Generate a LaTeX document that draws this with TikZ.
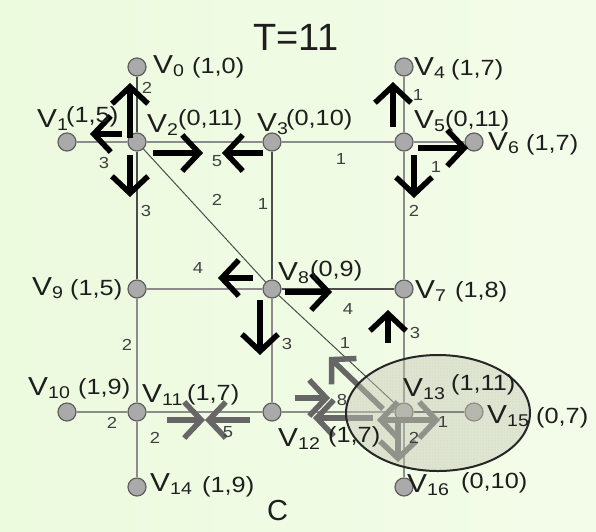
\documentclass[tikz,border=0pt]{standalone}
\usepackage{fontspec}
\setmainfont{Liberation Sans}
\newfontfamily\lf[FakeStretch=1.15]{Liberation Sans}
\newfontfamily\lfn{Liberation Sans}
\usetikzlibrary{arrows.meta,patterns}
\definecolor{bgA}{RGB}{236,250,222}
\definecolor{bgB}{RGB}{243,252,233}
\definecolor{edgeLc}{RGB}{140,140,140}
\definecolor{edgeDc}{RGB}{77,77,77}
\definecolor{vfill}{RGB}{170,170,170}
\definecolor{vdraw}{RGB}{95,95,95}
\definecolor{garr}{RGB}{102,102,102}
\definecolor{ellfill}{RGB}{198,202,182}
\definecolor{wtc}{RGB}{64,64,64}
\definecolor{txt}{RGB}{30,30,30}
\newcommand{\vlab}[7]{%
  \node[vl] (l#1) at (#2,#3) {{\fontsize{26}{26}\selectfont V}\raisebox{-3pt}{\fontsize{17}{17}\selectfont #4}};
  \node[pl] (p#1) at (#5,#6) {#7};}
\tikzset{
  vtx/.style={circle,minimum size=18pt,inner sep=0pt,fill=vfill,draw=vdraw,line width=1.2pt},
  edgeL/.style={draw=edgeLc,line width=2pt},
  edgeD/.style={draw=edgeDc,line width=1.4pt},
  diag/.style={draw=edgeDc,line width=1pt},
  vl/.style={anchor=base west,inner sep=0pt,text=txt,font=\lf},
  pl/.style={anchor=base west,inner sep=0pt,text=txt,font=\lf\fontsize{22}{22}\selectfont},
  wt/.style={inner sep=0pt,text=wtc,font=\lf\fontsize{16}{16}\selectfont},
  barrow/.style={line width=5.5pt,-{Straight Barb[length=17pt,width=36pt]}},
  blk/.style={barrow,draw=black},
  gry/.style={barrow,draw=garr},
  ell/.style={draw=black!85,line width=2pt,fill=ellfill,fill opacity=0.45}
}
\begin{document}
\begin{tikzpicture}[x=1pt,y=-1pt]
\useasboundingbox (0,0) rectangle (596,531);
\shade[left color=bgA,right color=bgB] (0,0) rectangle (596,531);
% vertices
\node[vtx] (v0) at (137,67) {};
\node[vtx] (v1) at (67,142) {};
\node[vtx] (v2) at (137,142) {};
\node[vtx] (v3) at (272,142) {};
\node[vtx] (v4) at (404,67) {};
\node[vtx] (v5) at (404,142) {};
\node[vtx] (v6) at (474,142) {};
\node[vtx] (v9) at (137,289) {};
\node[vtx] (v8) at (272,289) {};
\node[vtx] (v7) at (404,289) {};
\node[vtx] (v10) at (67,412) {};
\node[vtx] (v11) at (137,412) {};
\node[vtx] (v12) at (272,412) {};
\node[vtx] (v13) at (404,412) {};
\node[vtx] (v15) at (474,412) {};
\node[vtx] (v14) at (137,487) {};
\node[vtx] (v16) at (404,487) {};
% edges
\draw[edgeD] (v0) -- (v2);
\draw[edgeL] (v1) -- (v2);
\draw[edgeL] (v2) -- (v3);
\draw[edgeL] (v3) -- (v5);
\draw[edgeL] (v4) -- (v5);
\draw[edgeL] (v5) -- (v6);
\draw[edgeD] (v2) -- (v9);
\draw[edgeD] (v3) -- (v8);
\draw[edgeL] (v5) -- (v7);
\draw[edgeL] (v9) -- (v8);
\draw[edgeD] (v8) -- (v7);
\draw[diag] (v2) -- (v8);
\draw[diag] (v8) -- (v13);
\draw[edgeL] (v9) -- (v11);
\draw[edgeL] (v8) -- (v12);
\draw[edgeL] (v7) -- (v13);
\draw[edgeL] (v10) -- (v11);
\draw[edgeL] (v11) -- (v12);
\draw[edgeL] (v12) -- (v13);
\draw[edgeD] (v13) -- (v15);
\draw[edgeL] (v11) -- (v14);
\draw[edgeL] (v13) -- (v16);
% black arrows
\coordinate (a1s) at (130,138); \coordinate (a1e) at (130,83);
\coordinate (a2s) at (122,134); \coordinate (a2e) at (90,134);
\coordinate (a3s) at (153,153); \coordinate (a3e) at (203,153);
\coordinate (a4s) at (130,155); \coordinate (a4e) at (130,197);
\coordinate (a5s) at (263,153); \coordinate (a5e) at (222,153);
\coordinate (a6s) at (393,127); \coordinate (a6e) at (393,82);
\coordinate (a7s) at (418,148); \coordinate (a7e) at (468,148);
\coordinate (a8s) at (414,155); \coordinate (a8e) at (414,198);
\coordinate (a9s) at (253,278); \coordinate (a9e) at (218,278);
\coordinate (a10s) at (285,292); \coordinate (a10e) at (332,292);
\coordinate (a11s) at (260,300); \coordinate (a11e) at (260,355);
\coordinate (a12s) at (388,343); \coordinate (a12e) at (388,310);
\foreach \i in {1,...,12} {\draw[blk] (a\i s) -- (a\i e);}
% gray arrows
\coordinate (g1s) at (167,420); \coordinate (g1e) at (205,420);
\coordinate (g2s) at (250,420); \coordinate (g2e) at (205,420);
\coordinate (g3s) at (295,398); \coordinate (g3e) at (330,398);
\coordinate (g4s) at (373,418); \coordinate (g4e) at (313,418);
\coordinate (g5s) at (404,420); \coordinate (g5e) at (377,420);
\coordinate (g6s) at (404,420); \coordinate (g6e) at (440,420);
\coordinate (g7s) at (398,420); \coordinate (g7e) at (398,462);
\coordinate (g8s) at (383,409); \coordinate (g8e) at (329,357);
\foreach \i in {1,...,8} {\draw[gry] (g\i s) -- (g\i e);}
% ellipse
\draw[ell] (438,413) ellipse [x radius=92pt,y radius=58pt];
\fill[pattern=dots,pattern color=black!40,opacity=0.25] (438,413) ellipse [x radius=91pt,y radius=57pt];
% labels
\vlab{0}{153}{73}{0}{192}{73}{(1,0)}
\vlab{1}{37}{127}{1}{66}{122}{(1,5)}
\vlab{2}{147}{132}{2}{178}{125}{(0,11)}
\vlab{3}{257}{131}{3}{286}{125}{(0,10)}
\vlab{4}{414}{75}{4}{451}{75}{(1,7)}
\vlab{5}{414}{128}{5}{445}{126}{(0,11)}
\vlab{6}{488}{150}{6}{526}{150}{(1,7)}
\vlab{9}{32}{295}{9}{70}{295}{(1,5)}
\vlab{8}{278}{280}{8}{310}{276}{(0,9)}
\vlab{7}{415}{298}{7}{455}{297}{(1,8)}
\vlab{10}{28}{395}{10}{78}{394}{(1,9)}
\vlab{11}{142}{402}{11}{187}{400}{(1,7)}
\vlab{12}{278}{446}{12}{328}{442}{(1,7)}
\vlab{13}{403}{396}{13}{451}{390}{(1,11)}
\vlab{15}{487}{423}{15}{536}{423}{(0,7)}
\vlab{14}{150}{491}{14}{202}{492}{(1,9)}
\vlab{16}{407}{492}{16}{461}{488}{(0,10)}
% weights
\node[wt] (w02) at (147,88) {2};
\node[wt] (w12) at (104,163) {3};
\node[wt] (w23) at (217,161) {5};
\node[wt] (w35) at (341,159) {1};
\node[wt] (w45) at (418,95) {1};
\node[wt] (w56) at (436,167) {1};
\node[wt] (w29) at (146,211) {3};
\node[wt] (w28) at (217,200) {2};
\node[wt] (w38) at (263,204) {1};
\node[wt] (w57) at (414,211) {2};
\node[wt] (w98) at (198,268) {4};
\node[wt] (w87) at (348,309) {4};
\node[wt] (w911) at (127,345) {2};
\node[wt] (w812) at (287,344) {3};
\node[wt] (w713) at (415,333) {3};
\node[wt] (w813) at (345,343) {1};
\node[wt] (w1213) at (342,400) {8};
\node[wt] (w1315) at (443,422) {1};
\node[wt] (w1316) at (414,438) {2};
\node[wt] (w1011) at (112,423) {2};
\node[wt] (w1112) at (228,432) {5};
\node[wt] (w1114) at (155,438) {2};
% title and caption
\node[anchor=base,inner sep=0pt,text=txt,font=\lfn\fontsize{38}{38}\selectfont] (title) at (296,50) {T=11};
\node[anchor=base west,inner sep=0pt,text=txt,font=\lfn\fontsize{29}{29}\selectfont] (cap) at (267,520) {C};
\end{tikzpicture}
\end{document}
